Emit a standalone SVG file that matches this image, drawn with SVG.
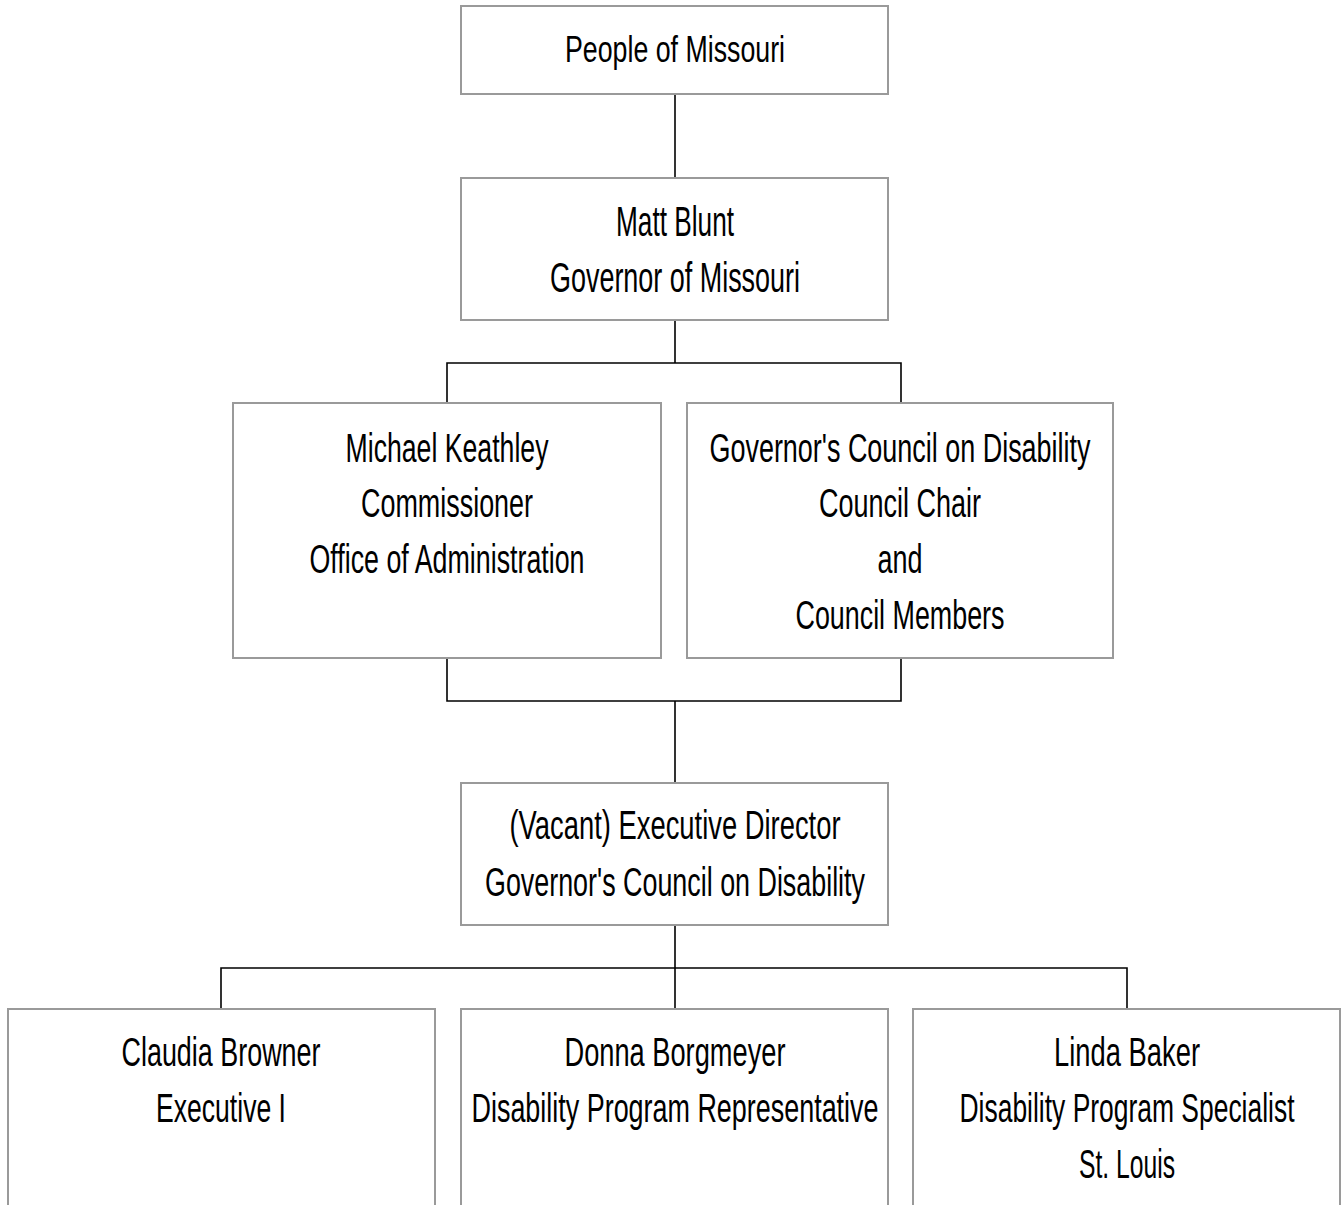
<svg xmlns="http://www.w3.org/2000/svg" width="1344" height="1205" viewBox="0 0 1344 1205">
<style>
.box{fill:#ffffff;stroke:#9a9a9a;stroke-width:2}
.con{fill:none;stroke:#000000;stroke-width:1.6}
text{font-family:"Liberation Sans",Arial,sans-serif;font-size:40px;fill:#000000;text-anchor:middle}
text.s37{font-size:37px}
text.s42{font-size:42px}
text.s28{font-size:28px}
text.s30{font-size:30px}
</style>
<rect width="1344" height="1205" fill="#ffffff"/>
<g id="connectors">
<path class="con" d="M675 94V178"/>
<path class="con" d="M675 320V363M447 403V363H901V403"/>
<path class="con" d="M447 658V701H901V658M675 701V783"/>
<path class="con" d="M675 925V968M221 1009V968H1127V1009M675 968V1009"/>
</g>
<g id="people">
<rect class="box" x="461" y="6" width="427" height="88"/>
<text class="s37" x="675" y="62" textLength="220" lengthAdjust="spacingAndGlyphs">People of Missouri</text>
</g>
<g id="governor">
<rect class="box" x="461" y="178" width="427" height="142"/>
<text class="s42" x="675" y="236" textLength="118" lengthAdjust="spacingAndGlyphs">Matt Blunt</text>
<text class="s42" x="675" y="292" textLength="250" lengthAdjust="spacingAndGlyphs">Governor of Missouri</text>
</g>
<g id="commissioner">
<rect class="box" x="233" y="403" width="428" height="255"/>
<text x="447" y="462" textLength="203" lengthAdjust="spacingAndGlyphs">Michael Keathley</text>
<text x="447" y="517" textLength="172" lengthAdjust="spacingAndGlyphs">Commissioner</text>
<text x="447" y="573" textLength="275" lengthAdjust="spacingAndGlyphs">Office of Administration</text>
</g>
<g id="council">
<rect class="box" x="687" y="403" width="426" height="255"/>
<text x="900" y="462" textLength="381" lengthAdjust="spacingAndGlyphs">Governor's Council on Disability</text>
<text x="900" y="517" textLength="162" lengthAdjust="spacingAndGlyphs">Council Chair</text>
<text x="900" y="573" textLength="45" lengthAdjust="spacingAndGlyphs">and</text>
<text x="900" y="629" textLength="209" lengthAdjust="spacingAndGlyphs">Council Members</text>
</g>
<g id="director">
<rect class="box" x="461" y="783" width="427" height="142"/>
<text x="675" y="839" textLength="331" lengthAdjust="spacingAndGlyphs">(Vacant) Executive Director</text>
<text x="675" y="896" textLength="380" lengthAdjust="spacingAndGlyphs">Governor's Council on Disability</text>
</g>
<g id="browner">
<rect class="box" x="8" y="1009" width="427" height="220"/>
<text x="221" y="1066" textLength="199" lengthAdjust="spacingAndGlyphs">Claudia Browner</text>
<text x="221" y="1122" textLength="130" lengthAdjust="spacingAndGlyphs">Executive I</text>
</g>
<g id="borgmeyer">
<rect class="box" x="461" y="1009" width="427" height="220"/>
<text x="675" y="1066" textLength="221" lengthAdjust="spacingAndGlyphs">Donna Borgmeyer</text>
<text class="s28" transform="translate(675 1122) scale(1 1.4286)" x="0" y="0" textLength="407" lengthAdjust="spacingAndGlyphs">Disability Program Representative</text>
</g>
<g id="baker">
<rect class="box" x="913" y="1009" width="427" height="220"/>
<text x="1127" y="1066" textLength="146" lengthAdjust="spacingAndGlyphs">Linda Baker</text>
<text class="s30" transform="translate(1127 1122) scale(1 1.3333)" x="0" y="0" textLength="335" lengthAdjust="spacingAndGlyphs">Disability Program Specialist</text>
<text x="1127" y="1178" textLength="96" lengthAdjust="spacingAndGlyphs">St. Louis</text>
</g>
</svg>
